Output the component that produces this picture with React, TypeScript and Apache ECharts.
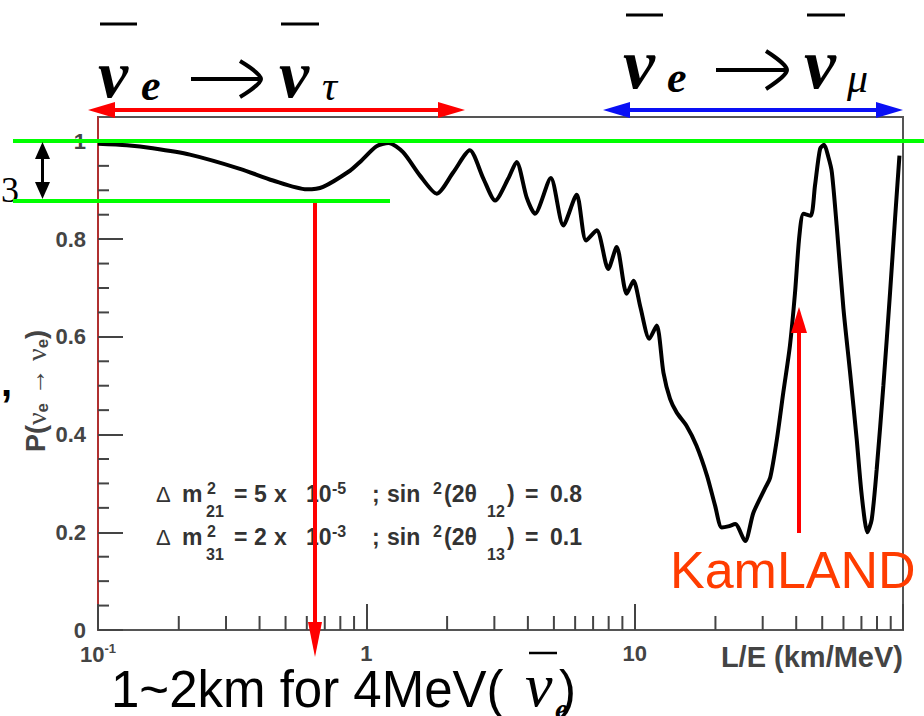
import React, { useEffect, useRef } from "react";
import * as echarts from "echarts";

// L/E (km/MeV) and survival probability
const leRatio = [
  0.1, 0.128, 0.16, 0.22, 0.338, 0.449, 0.6, 0.69, 0.869, 0.947, 1.09, 1.21, 1.37, 1.585, 1.83, 2.11,
  2.43, 2.73, 3.02, 3.38, 3.63, 3.96, 4.25, 4.87, 5.42, 6.08, 6.59, 7.22, 7.97, 8.57, 9.34, 9.9,
  10.5, 11.34, 12.08, 12.8, 13.55, 14.35, 15.6, 17.0, 18.6, 19.95, 21.1, 22.3, 23.7, 25.8, 27.7,
  30.6, 32.0, 33.9, 35.8, 37.9, 39.6, 41.1, 42.6, 45.3, 47.0, 49.1, 50.8, 52.7, 54.3, 56.6, 60.0,
  63.5, 67.2, 70.2, 73.7, 76.5, 79.8, 84.5, 89.5, 93.4, 97.0,
];
const survival = [
  0.995, 0.992, 0.986, 0.973, 0.944, 0.92, 0.902, 0.907, 0.94, 0.958, 0.99, 0.997, 0.978, 0.93, 0.893, 0.937,
  0.982, 0.924, 0.879, 0.924, 0.958, 0.885, 0.852, 0.925, 0.828, 0.891, 0.797, 0.818, 0.739, 0.784, 0.688, 0.715,
  0.661, 0.596, 0.623, 0.527, 0.473, 0.445, 0.418, 0.377, 0.316, 0.254, 0.21, 0.212, 0.217, 0.182, 0.24,
  0.29, 0.312, 0.391, 0.486, 0.582, 0.691, 0.807, 0.852, 0.848, 0.91, 0.985, 0.993, 0.968, 0.937, 0.828, 0.657,
  0.527, 0.391, 0.275, 0.2, 0.227, 0.329, 0.5, 0.691, 0.842, 0.971,
];
const xMinorTicks = [0.2, 0.3, 0.4, 0.5, 0.6, 0.7, 0.8, 0.9, 2, 3, 4, 5, 6, 7, 8, 9, 20, 30, 40, 50, 60, 70, 80, 90];
const yMinorTicks = [0.05, 0.1, 0.15, 0.25, 0.3, 0.35, 0.45, 0.5, 0.55, 0.65, 0.7, 0.75, 0.85, 0.9, 0.95];

const SERIF = "'Liberation Serif', 'Times New Roman', serif";
const SANS = "'Liberation Sans', Arial, sans-serif";

type Tok = { t: string; x: number; b: number; size: number; family?: string; weight?: string; style?: string; color?: string };

const txt = (k: Tok): any => ({
  type: "text",
  x: k.x,
  y: k.b - 0.34 * k.size,
  z: 50,
  style: {
    text: k.t,
    fill: k.color || "#000",
    fontSize: k.size,
    fontFamily: k.family || SANS,
    fontWeight: k.weight || "normal",
    fontStyle: k.style || "normal",
    align: "left",
    verticalAlign: "middle",
  },
});

const line = (x1: number, y1: number, x2: number, y2: number, color: string, w: number): any => ({
  type: "line",
  z: 60,
  shape: { x1, y1, x2, y2 },
  style: { stroke: color, lineWidth: w },
});

const poly = (pts: number[][], color: string): any => ({
  type: "polygon",
  z: 60,
  shape: { points: pts },
  style: { fill: color },
});

const hArrow2 = (x1: number, x2: number, y: number, color: string) => [
  line(x1 + 20, y, x2 - 20, y, color, 4),
  poly([[x1, y], [x1 + 27, y - 8], [x1 + 27, y + 8]], color),
  poly([[x2, y], [x2 - 27, y - 8], [x2 - 27, y + 8]], color),
];

const rightArrow = (x1: number, x2: number, y: number, back: number, half: number) => [
  line(x1, y, x2 - 2, y, "#000", 4),
  {
    type: "polyline",
    z: 60,
    shape: { points: [[back, y - half], [x2, y], [back, y + half]], smooth: 0.3 },
    style: { stroke: "#000", lineWidth: 4, fill: null },
  },
];

function paramLine(base: number, sub1: string, mant: string, exp: string, sub2: string, val: string) {
  const main = { size: 23, weight: "bold", color: "#333" };
  const small = { size: 16, weight: "bold", color: "#333" };
  return [
    { t: "Δ", x: 156, b: base, size: 22, weight: "normal", color: "#333" },
    { t: "m", x: 182, b: base, ...main },
    { t: "2", x: 207, b: base - 8, ...small },
    { t: sub1, x: 206, b: base + 15, ...small },
    { t: "=", x: 234, b: base, ...main },
    { t: mant, x: 254, b: base, ...main },
    { t: "x", x: 274, b: base, ...main },
    { t: "10", x: 306, b: base, ...main },
    { t: exp, x: 332, b: base - 8, ...small },
    { t: ";", x: 372, b: base, ...main },
    { t: "sin", x: 387, b: base, ...main },
    { t: "2", x: 433, b: base - 8, ...small },
    { t: "(2θ", x: 444, b: base, ...main },
    { t: sub2, x: 487, b: base + 15, ...small },
    { t: ")", x: 507, b: base, ...main },
    { t: "=", x: 525, b: base, ...main },
    { t: val, x: 550, b: base, ...main },
  ].map(txt);
}

export default function App() {
  const ref = useRef<HTMLDivElement>(null);

  useEffect(() => {
    if (!ref.current) return;
    const chart = echarts.init(ref.current, null, { renderer: "svg" });

    const curve = leRatio.map((x, i) => [x, survival[i]]);

    const graphics: any[] = [
      // headers
      ...[
        { t: "ν", x: 98, b: 97, size: 68, family: SERIF, weight: "bold", style: "italic" },
        { t: "e", x: 141, b: 100, size: 44, family: SERIF, weight: "bold", style: "italic" },
        { t: "ν", x: 279, b: 97, size: 68, family: SERIF, weight: "bold", style: "italic" },
        { t: "τ", x: 322, b: 100, size: 42, family: SERIF, style: "italic" },
        { t: "ν", x: 623, b: 88, size: 72, family: SERIF, weight: "bold", style: "italic" },
        { t: "e", x: 667, b: 92, size: 44, family: SERIF, weight: "bold", style: "italic" },
        { t: "ν", x: 804, b: 88, size: 72, family: SERIF, weight: "bold", style: "italic" },
        { t: "μ", x: 847, b: 92, size: 42, family: SERIF, style: "italic" },
      ].map(txt),
      line(100, 24, 137, 24, "#000", 3),
      line(281, 24, 319, 24, "#000", 3),
      line(626, 15, 663, 15, "#000", 3),
      line(807, 15, 845, 15, "#000", 3),
      ...rightArrow(191, 261, 79, 240, 18),
      ...rightArrow(716, 787, 70, 766, 19),
      ...hArrow2(88, 465, 110, "#ff0000"),
      ...hArrow2(603, 903, 110, "#0a10f5"),
      // parameters
      ...paramLine(502, "21", "5", "-5", "12", "0.8"),
      ...paramLine(545, "31", "2", "-3", "13", "0.1"),
      // y axis name
      {
        type: "text",
        x: 36,
        y: 391,
        rotation: Math.PI / 2,
        z: 50,
        style: {
          text: "{a|P(}{g|ν}{s|e}{a| → }{g|ν}{s|e}{a|)}",
          align: "center",
          verticalAlign: "middle",
          fill: "#444",
          rich: {
            a: { fontSize: 27, fontWeight: "bold", fontFamily: SANS, fill: "#444", lineHeight: 30 },
            g: { fontSize: 28, fontFamily: SERIF, fill: "#444", lineHeight: 30 },
            s: { fontSize: 17, fontWeight: "bold", fontFamily: SANS, fill: "#444", lineHeight: 14, verticalAlign: "bottom" },
          },
        },
      },
      // side marks
      txt({ t: "3", x: 1, b: 202, size: 36, family: SERIF }),
      txt({ t: ",", x: 1, b: 396, size: 40, family: SANS, weight: "bold" }),
      // bottom text
      txt({ t: "1~2km for 4MeV( ", x: 111, b: 707, size: 51 }),
      txt({ t: "ν", x: 525, b: 706, size: 62, family: SERIF, style: "italic" }),
      txt({ t: ")", x: 559, b: 707, size: 51 }),
      txt({ t: "e", x: 555, b: 719, size: 30, family: SERIF, weight: "bold", style: "italic" }),
      line(529, 653, 557, 653, "#000", 2.5),
      // KamLAND
      txt({ t: "KamLAND", x: 670, b: 588, size: 52, color: "#ff3c00" }),
      line(799, 533, 799, 325, "#ff0000", 4),
      poly([[799, 307], [791, 333], [807, 333]], "#ff0000"),
      // green band lines
      line(13, 141, 924, 141, "#00ff00", 4),
      line(13, 201, 390, 201, "#00ff00", 4),
      // black double arrow
      line(42.5, 155, 42.5, 186, "#000", 3),
      poly([[42.5, 142], [35, 159], [50, 159]], "#000"),
      poly([[42.5, 199], [35, 182], [50, 182]], "#000"),
      // red arrow down
      line(315, 203, 315, 625, "#ff0000", 4),
      poly([[315, 657], [308, 622], [322, 622]], "#ff0000"),
    ];

    const labelFmt = (v: number) => {
      const e = Math.round(Math.log10(v));
      if (e === -1) return "{n|10}{sup|-1}";
      if (e === 0) return "1";
      if (e === 1) return "10";
      return "{big|L/E (km/MeV)}";
    };

    chart.setOption({
      animation: false,
      backgroundColor: "#fff",
      grid: {
        left: 98,
        right: 21,
        top: 117,
        bottom: 86,
        show: true,
        borderColor: "#555",
        borderWidth: 2,
        backgroundColor: "#fff",
      },
      xAxis: {
        type: "log",
        logBase: 10,
        min: 0.1,
        max: 100,
        axisLine: { show: true, onZero: false, lineStyle: { color: "#555", width: 2 } },
        axisTick: { inside: true, length: 26, lineStyle: { color: "#444", width: 2 } },
        minorTick: { show: false },
        splitLine: { show: false },
        axisLabel: {
          margin: 12,
          color: "#444",
          fontFamily: SANS,
          fontWeight: "bold",
          fontSize: 22,
          alignMaxLabel: "right",
          formatter: labelFmt,
          rich: {
            n: { fontSize: 22, fontWeight: "bold", fontFamily: SANS, color: "#444", lineHeight: 24 },
            sup: { fontSize: 13, fontWeight: "bold", fontFamily: SANS, color: "#444", lineHeight: 13, verticalAlign: "top" },
            big: { fontSize: 29, fontWeight: "bold", fontFamily: SANS, color: "#444", lineHeight: 30 },
          },
        },
      },
      yAxis: {
        type: "value",
        min: 0,
        max: 1.05,
        interval: 0.2,
        axisLine: { show: true, lineStyle: { color: "#b03030", width: 2 } },
        axisTick: { inside: true, length: 25, lineStyle: { color: "#444", width: 2 } },
        splitLine: { show: false },
        axisLabel: {
          margin: 12,
          color: "#444",
          fontFamily: SANS,
          fontWeight: "bold",
          fontSize: 22,
          showMaxLabel: false,
          formatter: (v: number) => (v > 1.001 ? "" : String(+v.toFixed(1))),
        },
      },
      series: [
        {
          type: "line",
          data: curve,
          showSymbol: false,
          smooth: 0.25,
          lineStyle: { color: "#000", width: 4 },
          z: 5,
        },
        {
          type: "custom",
          silent: true,
          clip: false,
          data: xMinorTicks.map((v) => [v, 0]),
          renderItem: (_p: any, api: any) => {
            const p = api.coord([api.value(0), api.value(1)]);
            return { type: "line", shape: { x1: p[0], y1: p[1], x2: p[0], y2: p[1] - 14 }, style: { stroke: "#444", lineWidth: 2 } };
          },
        },
        {
          type: "custom",
          silent: true,
          clip: false,
          data: yMinorTicks.map((v) => [0.1, v]),
          renderItem: (_p: any, api: any) => {
            const p = api.coord([api.value(0), api.value(1)]);
            return { type: "line", shape: { x1: p[0], y1: p[1], x2: p[0] + 11, y2: p[1] }, style: { stroke: "#444", lineWidth: 2 } };
          },
        },
      ],
      graphic: graphics,
    });

    return () => chart.dispose();
  }, []);

  return <div ref={ref} style={{ position: "fixed", left: 0, top: 0, width: 924, height: 716 }} />;
}
